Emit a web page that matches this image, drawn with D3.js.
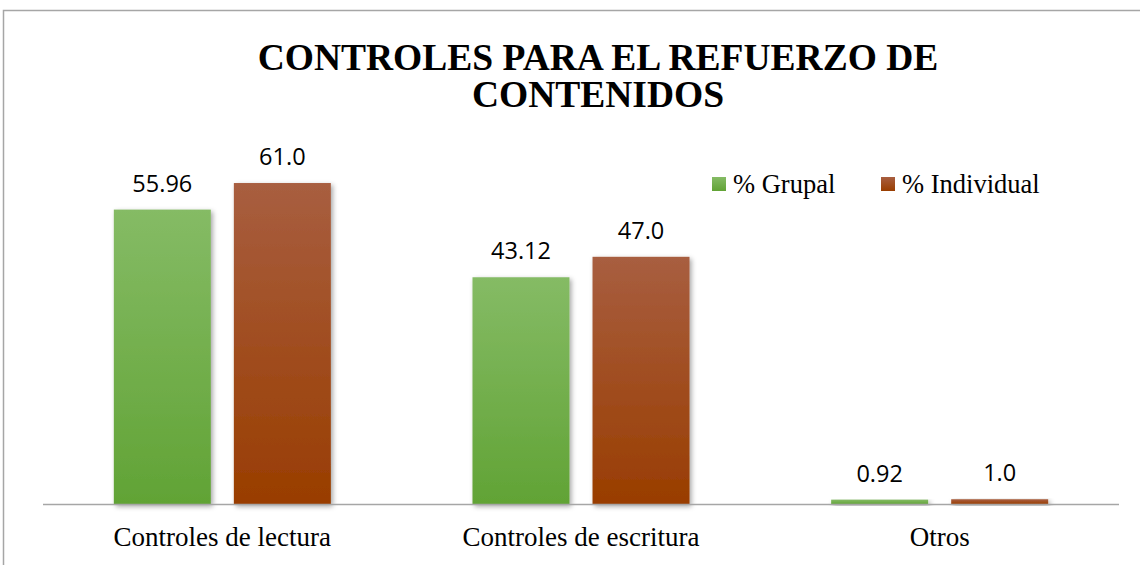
<!DOCTYPE html>
<html lang="es">
  <head>
    <meta charset="UTF-8" />
    <title>Controles para el refuerzo de contenidos</title>
    <style>
      body { margin: 0; background: #fff; }
    </style>
  </head>
  <body>
    <div id="chart">
      <svg width="1140" height="565"></svg>
    </div>
    <script src="https://d3js.org/d3.v7.min.js"></script>
    <script>
      // data
      const categories = ["Controles de lectura", "Controles de escritura", "Otros"];
      const seriesNames = ["% Grupal", "% Individual"];
      const grupal = [55.96, 43.12, 0.92];
      const individual = [61.0, 47.0, 1.0];
      const labelsGrupal = ["55.96", "43.12", "0.92"];
      const labelsIndividual = ["61.0", "47.0", "1.0"];
      const titleLines = ["CONTROLES PARA EL REFUERZO DE", "CONTENIDOS"];

      var svg = d3.select("#chart>svg");
      var axisY = 504.5;
      var left = 43, right = 1119;

      // frame round the chart area
      svg.append("path")
        .attr("d", "M3.5,565 V10.5 H1140")
        .attr("fill", "none")
        .attr("stroke", "#a6a6a6")
        .attr("stroke-width", 1.5);

      var defs = svg.append("defs");
      var gradG = defs.append("linearGradient").attr("id", "gG")
        .attr("x1", 0).attr("y1", 0).attr("x2", 0).attr("y2", 1);
      gradG.append("stop").attr("offset", "0%").attr("stop-color", "#85bb65");
      gradG.append("stop").attr("offset", "100%").attr("stop-color", "#61a335");
      var gradB = defs.append("linearGradient").attr("id", "gB")
        .attr("x1", 0).attr("y1", 0).attr("x2", 0).attr("y2", 1);
      gradB.append("stop").attr("offset", "0%").attr("stop-color", "#a85e40");
      gradB.append("stop").attr("offset", "100%").attr("stop-color", "#993d00");
      var shadow = defs.append("filter").attr("id", "sh")
        .attr("x", "-20%").attr("y", "-5%").attr("width", "150%").attr("height", "120%");
      shadow.append("feDropShadow")
        .attr("dx", 2).attr("dy", 2).attr("stdDeviation", 2.5)
        .attr("flood-color", "#000").attr("flood-opacity", 0.35);

      var fills = ["url(#gG)", "url(#gB)"];

      var x0 = d3.scaleBand().domain(categories).range([left, right]).padding(0);
      var x1 = d3.scaleBand().domain(seriesNames)
        .range([0, x0.bandwidth()]).paddingInner(0.192).paddingOuter(0.59);
      var y = d3.scaleLinear().domain([0, 70]).range([axisY, axisY - 70 * 5.27]);

      var rows = categories.map(function (c, i) {
        return {
          cat: c,
          vals: [
            { s: seriesNames[0], v: grupal[i], t: labelsGrupal[i], k: 0 },
            { s: seriesNames[1], v: individual[i], t: labelsIndividual[i], k: 1 },
          ],
        };
      });

      var g = svg.append("g");
      var grp = g.selectAll("g.cat").data(rows).enter().append("g")
        .attr("class", "cat")
        .attr("transform", function (d) { return "translate(" + x0(d.cat) + ",0)"; });

      grp.selectAll("rect").data(function (d) { return d.vals; }).enter().append("rect")
        .attr("x", function (d) { return x1(d.s); })
        .attr("y", function (d) { return y(d.v); })
        .attr("width", x1.bandwidth())
        .attr("height", function (d) { return axisY - y(d.v); })
        .attr("fill", function (d) { return fills[d.k]; })
        .attr("filter", "url(#sh)");

      grp.selectAll("text.val").data(function (d) { return d.vals; }).enter().append("text")
        .attr("class", "val")
        .attr("x", function (d) { return x1(d.s) + x1.bandwidth() / 2; })
        .attr("y", function (d) { return y(d.v) - 18; })
        .attr("text-anchor", "middle")
        .attr("font-family", "'Open Sans', sans-serif")
        .attr("font-size", 23.5)
        .attr("fill", "#000")
        .text(function (d) { return d.t; });

      // category axis
      var xAxis = g.append("g")
        .attr("transform", "translate(0," + axisY + ")")
        .call(d3.axisBottom(x0).tickSize(0).tickPadding(22));
      xAxis.select(".domain").attr("stroke", "#a6a6a6").attr("stroke-width", 1.5)
        .attr("d", "M" + left + ",0H" + right);
      xAxis.selectAll("text")
        .attr("font-family", "'Liberation Serif', 'Times New Roman', serif")
        .attr("font-size", 27)
        .attr("fill", "#000");

      // title
      svg.append("text")
        .attr("x", 598).attr("y", 70)
        .attr("text-anchor", "middle")
        .attr("font-family", "'Liberation Serif', 'Times New Roman', serif")
        .attr("font-weight", "bold")
        .attr("font-size", 37.5)
        .selectAll("tspan").data(titleLines).enter().append("tspan")
        .attr("x", 598)
        .attr("dy", function (d, i) { return i ? 37 : 0; })
        .text(function (d) { return d; });

      // legend
      var legX = [712, 881];
      var leg = svg.append("g").selectAll("g").data(seriesNames).enter().append("g")
        .attr("transform", function (d, i) { return "translate(" + legX[i] + ",177)"; });
      leg.append("rect").attr("width", 14).attr("height", 14)
        .attr("fill", function (d, i) { return fills[i]; });
      leg.append("text").attr("x", 21).attr("y", 15.5)
        .attr("font-family", "'Liberation Serif', 'Times New Roman', serif")
        .attr("font-size", 26.5)
        .text(function (d) { return d; });
    </script>
  </body>
</html>
